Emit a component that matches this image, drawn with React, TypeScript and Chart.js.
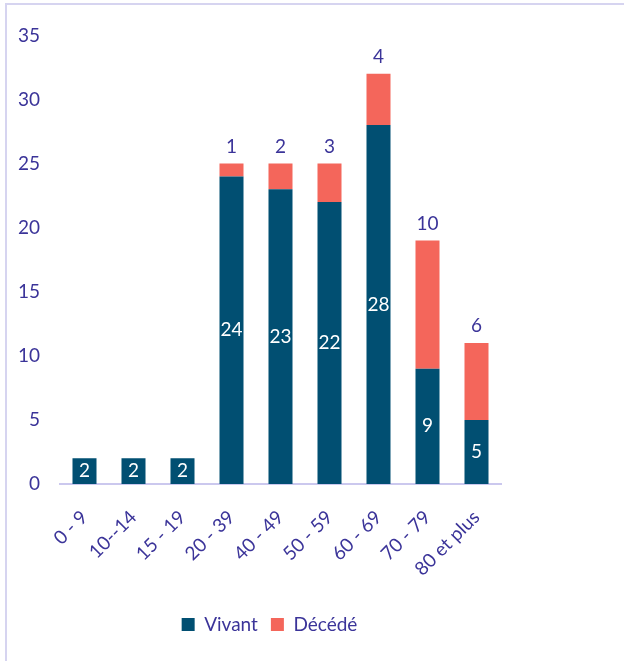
import React, { useEffect, useRef } from "react";
import { Chart, registerables } from "chart.js";
Chart.register(...registerables);

const categories = ["0 - 9", "10--14", "15 - 19", "20 - 39", "40 - 49", "50 - 59", "60 - 69", "70 - 79", "80 et plus"];
const vivant = [2, 2, 2, 24, 23, 22, 28, 9, 5];
const decede = [0, 0, 0, 1, 2, 3, 4, 10, 6];
const seriesNames = ["Vivant", "Décédé"];
const yMin = 0;
const yMax = 35;
const yStep = 5;

const FONT = "Lato, 'Open Sans', sans-serif";
const TEXT = "#3b3499";
const C_VIVANT = "#014f72";
const C_DECEDE = "#f4665b";

const labelPlugin = {
  id: "barLabels",
  afterDatasetsDraw(chart: any) {
    const ctx = chart.ctx;
    ctx.save();
    ctx.font = `19px ${FONT}`;
    ctx.textAlign = "center";
    ctx.textBaseline = "middle";
    chart.data.datasets.forEach((ds: any, di: number) => {
      const meta = chart.getDatasetMeta(di);
      meta.data.forEach((bar: any, i: number) => {
        const v = ds.data[i];
        if (!v) return;
        const { x, y, base } = bar.getProps(["x", "y", "base"], true);
        if (di === 0) {
          ctx.fillStyle = "#ffffff";
          ctx.fillText(String(v), x, (y + base) / 2);
        } else {
          ctx.fillStyle = TEXT;
          ctx.fillText(String(v), x, y - 17);
        }
      });
    });
    ctx.restore();
  },
};

const legendShift = {
  id: "legendShift",
  afterLayout(chart: any) {
    const lg = chart.legend;
    if (!lg) return;
    lg.left += 16;
    lg.right += 16;
  },
};

export default function App() {
  const ref = useRef<HTMLCanvasElement>(null);
  useEffect(() => {
    if (!ref.current) return;
    const chart = new Chart(ref.current, {
      type: "bar",
      data: {
        labels: categories,
        datasets: [
          { label: seriesNames[0], data: vivant, backgroundColor: C_VIVANT, barPercentage: 0.49, categoryPercentage: 1 },
          { label: seriesNames[1], data: decede, backgroundColor: C_DECEDE, barPercentage: 0.49, categoryPercentage: 1 },
        ],
      },
      options: {
        animation: false,
        responsive: false,
        maintainAspectRatio: false,
        layout: { padding: { left: 0, right: 31, top: 25, bottom: 17 } },
        plugins: {
          tooltip: { enabled: false },
          legend: {
            position: "bottom",
            labels: {
              color: TEXT,
              font: { family: FONT, size: 19 },
              boxWidth: 13,
              boxHeight: 13,
              padding: 13,
            },
          },
        },
        scales: {
          x: {
            stacked: true,
            grid: { display: false, drawTicks: false },
            border: { display: true, color: "#cbc8ee", width: 2 },
            ticks: { color: TEXT, font: { family: FONT, size: 19 }, maxRotation: 45, minRotation: 45, padding: 22 },
            afterFit: (s: any) => { s.height = 118; },
          },
          y: {
            stacked: true,
            min: yMin,
            max: yMax,
            grid: { display: false, drawTicks: false },
            border: { display: false },
            ticks: { stepSize: yStep, color: TEXT, font: { family: FONT, size: 19 }, padding: 20 },
            afterFit: (s: any) => { s.width = 54; },
          },
        },
      },
      plugins: [labelPlugin, legendShift],
    });
    return () => chart.destroy();
  }, []);
  return (
    <div style={{ position: "fixed", left: 0, top: 0, width: 624, height: 661, overflow: "hidden", background: "#fff" }}>
      <div style={{ position: "absolute", left: 5, top: 3, width: 700, height: 700, border: "2px solid #d6d4f0", boxSizing: "border-box" }} />
      <canvas ref={ref} width={526} height={657} style={{ position: "absolute", left: 6, top: 4, width: 526, height: 657 }} />
    </div>
  );
}
